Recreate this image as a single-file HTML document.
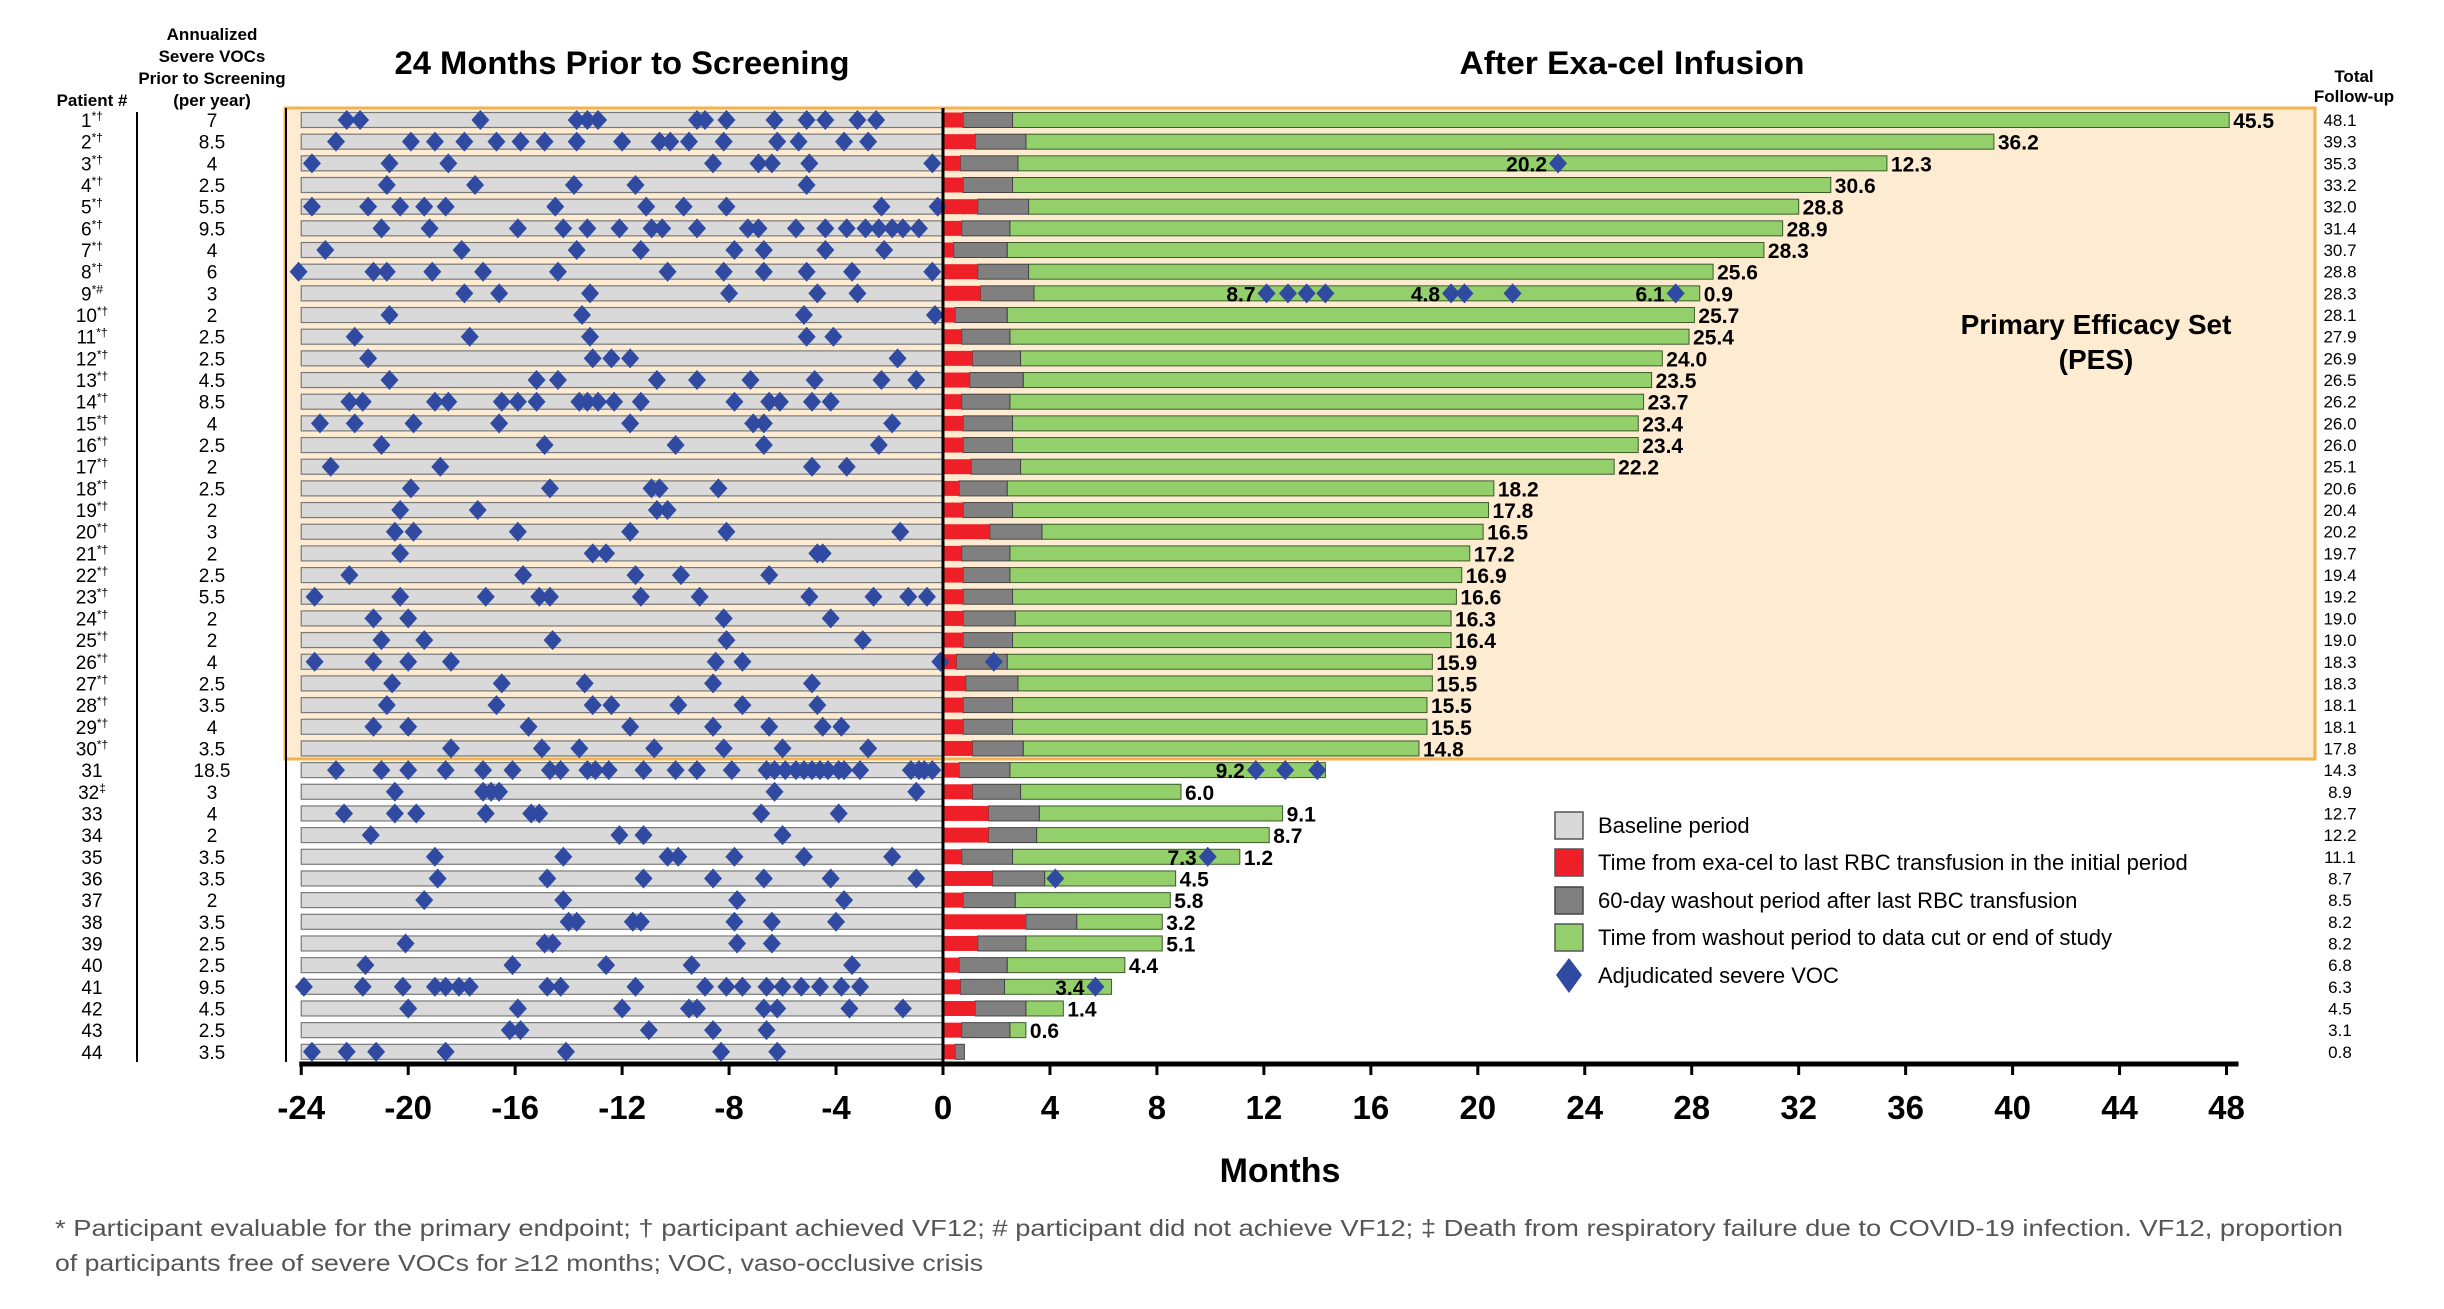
<!DOCTYPE html>
<html><head><meta charset="utf-8"><style>
html,body{margin:0;padding:0;background:#fff;}
svg{display:block;font-family:"Liberation Sans",Arial,sans-serif;}
</style></head><body>
<svg id="chart" xmlns="http://www.w3.org/2000/svg" width="2444" height="1309" viewBox="0 0 2444 1309">
<rect x="285" y="108" width="2030" height="651" fill="#fdebd2" stroke="#f3b24c" stroke-width="3"/>
<text x="92" y="106" font-size="17" font-weight="bold" text-anchor="middle">Patient #</text>
<g font-size="17" font-weight="bold" text-anchor="middle">
<text x="212" y="40">Annualized</text><text x="212" y="62">Severe VOCs</text><text x="212" y="84">Prior to Screening</text><text x="212" y="106">(per year)</text></g>
<text x="622" y="74" font-size="32" font-weight="bold" text-anchor="middle" textLength="455" lengthAdjust="spacingAndGlyphs">24 Months Prior to Screening</text>
<text x="1632" y="74" font-size="32" font-weight="bold" text-anchor="middle" textLength="345" lengthAdjust="spacingAndGlyphs">After Exa-cel Infusion</text>
<g font-size="17" font-weight="bold" text-anchor="middle"><text x="2354" y="82">Total</text><text x="2354" y="102">Follow-up</text></g>
<g font-size="28" font-weight="bold" text-anchor="middle"><text x="2096" y="334">Primary Efficacy Set</text><text x="2096" y="369">(PES)</text></g>
<line x1="137" y1="112" x2="137" y2="1062" stroke="#000" stroke-width="2"/>
<line x1="286" y1="108" x2="286" y2="1062" stroke="#000" stroke-width="2"/>
<g id="rows"></g>
<g id="axis"></g>
<text x="1280" y="1182" font-size="34" font-weight="bold" text-anchor="middle">Months</text>
<g font-size="22">
<rect x="1555" y="812" width="28" height="27" fill="#d9d9d9" stroke="#555" stroke-width="1.5"/>
<text x="1598" y="833">Baseline period</text>
<rect x="1555" y="849" width="28" height="27" fill="#ee1f26" stroke="#555" stroke-width="1.5"/>
<text x="1598" y="870">Time from exa-cel to last RBC transfusion in the initial period</text>
<rect x="1555" y="887" width="28" height="27" fill="#808080" stroke="#444" stroke-width="1.5"/>
<text x="1598" y="908">60-day washout period after last RBC transfusion</text>
<rect x="1555" y="924" width="28" height="27" fill="#93d06b" stroke="#555" stroke-width="1.5"/>
<text x="1598" y="945">Time from washout period to data cut or end of study</text>
<polygon points="1569,958 1582,975 1569,993 1556,975" fill="#2f4aa0"/>
<text x="1598" y="983">Adjudicated severe VOC</text>
</g>
<g font-size="23" fill="#555">
<text x="55" y="1236" textLength="2288" lengthAdjust="spacingAndGlyphs">* Participant evaluable for the primary endpoint; † participant achieved VF12; # participant did not achieve VF12; ‡ Death from respiratory failure due to COVID-19 infection. VF12, proportion</text>
<text x="55" y="1271" textLength="928" lengthAdjust="spacingAndGlyphs">of participants free of severe VOCs for ≥12 months; VOC, vaso-occlusive crisis</text>
</g>
</svg>
<script>
const patients = ["1","2","3","4","5","6","7","8","9","10","11","12","13","14","15","16","17","18","19","20","21","22","23","24","25","26","27","28","29","30","31","32","33","34","35","36","37","38","39","40","41","42","43","44"];
const marks = ["*†","*†","*†","*†","*†","*†","*†","*†","*#","*†","*†","*†","*†","*†","*†","*†","*†","*†","*†","*†","*†","*†","*†","*†","*†","*†","*†","*†","*†","*†","","‡","","","","","","","","","","","",""];
const annualized = ["7","8.5","4","2.5","5.5","9.5","4","6","3","2","2.5","2.5","4.5","8.5","4","2.5","2","2.5","2","3","2","2.5","5.5","2","2","4","2.5","3.5","4","3.5","18.5","3","4","2","3.5","3.5","2","3.5","2.5","2.5","9.5","4.5","2.5","3.5"];
const followUp = [48.1,39.3,35.3,33.2,32.0,31.4,30.7,28.8,28.3,28.1,27.9,26.9,26.5,26.2,26.0,26.0,25.1,20.6,20.4,20.2,19.7,19.4,19.2,19.0,19.0,18.3,18.3,18.1,18.1,17.8,14.3,8.9,12.7,12.2,11.1,8.7,8.5,8.2,8.2,6.8,6.3,4.5,3.1,0.8];
const redEnd = [0.75,1.2,0.65,0.75,1.3,0.7,0.4,1.3,1.4,0.45,0.7,1.1,1.0,0.7,0.75,0.75,1.05,0.6,0.75,1.75,0.7,0.75,0.75,0.75,0.75,0.5,0.85,0.75,0.75,1.1,0.6,1.1,1.7,1.7,0.7,1.85,0.75,3.1,1.3,0.6,0.65,1.2,0.7,0.45];
const grayEnd = [2.6,3.1,2.8,2.6,3.2,2.5,2.4,3.2,3.4,2.4,2.5,2.9,3.0,2.5,2.6,2.6,2.9,2.4,2.6,3.7,2.5,2.5,2.6,2.7,2.6,2.4,2.8,2.6,2.6,3.0,2.5,2.9,3.6,3.5,2.6,3.8,2.7,5.0,3.1,2.4,2.3,3.1,2.5,0.8];
const labelText = [["45.5"],["36.2"],["20.2","12.3"],["30.6"],["28.8"],["28.9"],["28.3"],["25.6"],["8.7","4.8","6.1","0.9"],["25.7"],["25.4"],["24.0"],["23.5"],["23.7"],["23.4"],["23.4"],["22.2"],["18.2"],["17.8"],["16.5"],["17.2"],["16.9"],["16.6"],["16.3"],["16.4"],["15.9"],["15.5"],["15.5"],["15.5"],["14.8"],["9.2"],["6.0"],["9.1"],["8.7"],["7.3","1.2"],["4.5"],["5.8"],["3.2"],["5.1"],["4.4"],["3.4"],["1.4"],["0.6"],[]];
const labelAt = [[48.1],[39.3],[23.0,35.3],[33.2],[32.0],[31.4],[30.7],[28.8],[12.1,19.0,27.4,28.3],[28.1],[27.9],[26.9],[26.5],[26.2],[26.0],[26.0],[25.1],[20.6],[20.4],[20.2],[19.7],[19.4],[19.2],[19.0],[19.0],[18.3],[18.3],[18.1],[18.1],[17.8],[11.7],[8.9],[12.7],[12.2],[9.9,11.1],[8.7],[8.5],[8.2],[8.2],[6.8],[5.7],[4.5],[3.1],[]];
const postVOC = [[],[],[23.0],[],[],[],[],[],[12.1,12.9,13.6,14.3,19.0,19.5,21.3,27.4],[],[],[],[],[],[],[],[],[],[],[],[],[],[],[],[],[1.9],[],[],[],[],[11.7,12.8,14.0],[],[],[],[9.9],[4.2],[],[],[],[],[5.7],[],[],[]];
const preVOC = [
[-22.3,-21.8,-17.3,-13.7,-13.3,-12.9,-9.2,-8.9,-8.1,-6.3,-5.1,-4.4,-3.2,-2.5],
[-22.7,-19.9,-19.0,-17.9,-16.7,-15.8,-14.9,-13.7,-12.0,-10.6,-10.2,-9.5,-8.2,-6.2,-5.4,-3.7,-2.8],
[-23.6,-20.7,-18.5,-8.6,-6.9,-6.4,-5.0,-0.4],
[-20.8,-17.5,-13.8,-11.5,-5.1],
[-23.6,-21.5,-20.3,-19.4,-18.6,-14.5,-11.1,-9.7,-8.1,-2.3,-0.2],
[-21.0,-19.2,-15.9,-14.2,-13.3,-12.1,-10.9,-10.5,-9.2,-7.3,-6.9,-5.5,-4.4,-3.6,-2.9,-2.4,-1.9,-1.5,-0.9],
[-23.1,-18.0,-13.7,-11.3,-7.8,-6.7,-4.4,-2.2],
[-24.1,-21.3,-20.8,-19.1,-17.2,-14.4,-10.3,-8.2,-6.7,-5.1,-3.4,-0.4],
[-17.9,-16.6,-13.2,-8.0,-4.7,-3.2],
[-20.7,-13.5,-5.2,-0.3],
[-22.0,-17.7,-13.2,-5.1,-4.1],
[-21.5,-13.1,-12.4,-11.7,-1.7],
[-20.7,-15.2,-14.4,-10.7,-9.2,-7.2,-4.8,-2.3,-1.0],
[-22.2,-21.7,-19.0,-18.5,-16.5,-15.9,-15.2,-13.6,-13.3,-12.9,-12.3,-11.3,-7.8,-6.5,-6.1,-4.9,-4.2],
[-23.3,-22.0,-19.8,-16.6,-11.7,-7.1,-6.7,-1.9],
[-21.0,-14.9,-10.0,-6.7,-2.4],
[-22.9,-18.8,-4.9,-3.6],
[-19.9,-14.7,-10.9,-10.6,-8.4],
[-20.3,-17.4,-10.7,-10.3],
[-20.5,-19.8,-15.9,-11.7,-8.1,-1.6],
[-20.3,-13.1,-12.6,-4.7,-4.5],
[-22.2,-15.7,-11.5,-9.8,-6.5],
[-23.5,-20.3,-17.1,-15.1,-14.7,-11.3,-9.1,-5.0,-2.6,-1.3,-0.6],
[-21.3,-20.0,-8.2,-4.2],
[-21.0,-19.4,-14.6,-8.1,-3.0],
[-23.5,-21.3,-20.0,-18.4,-8.5,-7.5,-0.1],
[-20.6,-16.5,-13.4,-8.6,-4.9],
[-20.8,-16.7,-13.1,-12.4,-9.9,-7.5,-4.7],
[-21.3,-20.0,-15.5,-11.7,-8.6,-6.5,-4.5,-3.8],
[-18.4,-15.0,-13.6,-10.8,-8.2,-6.0,-2.8],
[-22.7,-21.0,-20.0,-18.6,-17.2,-16.1,-14.7,-14.3,-13.3,-13.0,-12.5,-11.2,-10.0,-9.2,-7.9,-6.6,-6.3,-5.9,-5.5,-5.2,-4.9,-4.6,-4.3,-3.9,-3.7,-3.1,-1.2,-0.9,-0.7,-0.4],
[-20.5,-17.2,-16.9,-16.6,-6.3,-1.0],
[-22.4,-20.5,-19.7,-17.1,-15.4,-15.1,-6.8,-3.9],
[-21.4,-12.1,-11.2,-6.0],
[-19.0,-14.2,-10.3,-9.9,-7.8,-5.2,-1.9],
[-18.9,-14.8,-11.2,-8.6,-6.7,-4.2,-1.0],
[-19.4,-14.2,-7.7,-3.7],
[-14.0,-13.7,-11.6,-11.3,-7.8,-6.4,-4.0],
[-20.1,-14.9,-14.6,-7.7,-6.4],
[-21.6,-16.1,-12.6,-9.4,-3.4],
[-23.9,-21.7,-20.2,-19.0,-18.6,-18.1,-17.7,-14.8,-14.3,-11.5,-8.9,-8.1,-7.5,-6.6,-6.0,-5.3,-4.6,-3.8,-3.1],
[-20.0,-15.9,-12.0,-9.5,-9.2,-6.7,-6.2,-3.5,-1.5],
[-16.2,-15.8,-11.0,-8.6,-6.6],
[-23.6,-22.3,-21.2,-18.6,-14.1,-8.3,-6.2]
];
const tickValues = [-24,-20,-16,-12,-8,-4,0,4,8,12,16,20,24,28,32,36,40,44,48];

const NS = "http://www.w3.org/2000/svg";
function X(m){ return 943 + m * 26.74; }
function Y(i){ return 120 + i * 21.67; }
function mk(tag, attrs, parent){
  const e = document.createElementNS(NS, tag);
  for (const k in attrs) e.setAttribute(k, attrs[k]);
  parent.appendChild(e);
  return e;
}
function diamond(cx, cy, parent){
  const p = mk("polygon", {points:(cx)+","+(cy-10)+" "+(cx+9)+","+cy+" "+cx+","+(cy+10)+" "+(cx-9)+","+cy, fill:"#2f4aa0"}, parent);
  
  
  return p;
}
const rowsG = document.getElementById("rows");
for (let i = 0; i < patients.length; i++) {
  const y = Y(i);
  const g = mk("g", {}, rowsG);
  
  
  const pl = mk("text", {x:92, y:y+7, "font-size":19, "text-anchor":"middle"}, g);
  
  
  pl.textContent = patients[i];
  if (marks[i]) { const ts = mk("tspan", {"font-size":12, dy:-7}, pl); ts.textContent = marks[i]; }
  const an = mk("text", {x:212, y:y+7, "font-size":19, "text-anchor":"middle"}, g);
  
  
  an.textContent = annualized[i];
  const fu = mk("text", {x:2340, y:y+6, "font-size":17, "text-anchor":"middle"}, g);
  
  
  fu.textContent = followUp[i].toFixed(1);
  const bh = 15, by = y - 7.5;
  const base = mk("rect", {x:X(-24), y:by, width:X(0)-X(-24), height:bh, fill:"#d9d9d9", stroke:"#7a7a7a", "stroke-width":1.2}, g);
  
  
  const gr = mk("rect", {x:X(grayEnd[i]), y:by, width:Math.max(0, X(followUp[i])-X(grayEnd[i])), height:bh, fill:"#93d06b", stroke:"#3c5a2a", "stroke-width":1}, g);
  
  
  const wg = mk("rect", {x:X(redEnd[i]), y:by, width:X(grayEnd[i])-X(redEnd[i]), height:bh, fill:"#808080", stroke:"#444", "stroke-width":1}, g);
  
  
  const rd = mk("rect", {x:X(0), y:by, width:X(redEnd[i])-X(0), height:bh, fill:"#ee1f26"}, g);
  
  
  for (const v of preVOC[i]) diamond(X(v), y, g);
  for (const v of postVOC[i]) diamond(X(v), y, g);
  for (let k = 0; k < labelText[i].length; k++) {
    const at = labelAt[i][k];
    const last = Math.abs(at - followUp[i]) < 0.01;
    const t = mk("text", {x: last ? X(at)+4 : X(at)-11, y:y+8, "font-size":21, "font-weight":"bold", "text-anchor": last ? "start" : "end"}, g);
    
    
    t.textContent = labelText[i][k];
  }
}
const zl = mk("line", {x1:X(0), y1:108, x2:X(0), y2:1064, stroke:"#000", "stroke-width":3}, rowsG);


const axisG = document.getElementById("axis");
const al = mk("line", {x1:X(-24)-2, y1:1064, x2:X(48)+12, y2:1064, stroke:"#000", "stroke-width":5}, axisG);


for (const t of tickValues) {
  const tk = mk("line", {x1:X(t), y1:1064, x2:X(t), y2:1075, stroke:"#000", "stroke-width":3}, axisG);
  
  
  const tl = mk("text", {x:X(t), y:1119, "font-size":33, "font-weight":"bold", "text-anchor":"middle"}, axisG);
  
  
  tl.textContent = String(t);
}
</script>
</body></html>
